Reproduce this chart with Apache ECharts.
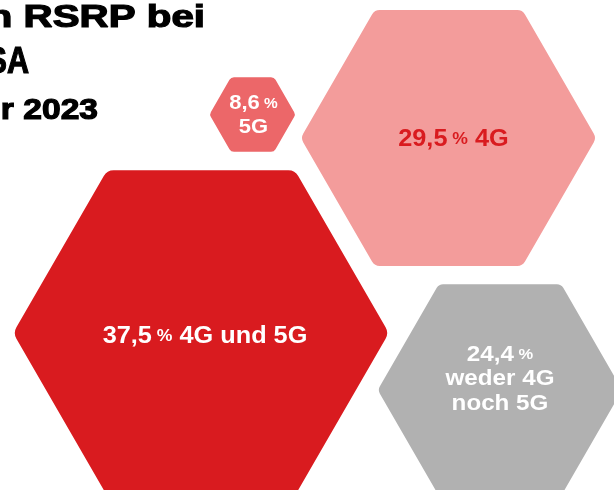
<!DOCTYPE html>
<html>
<head>
<meta charset="utf-8">
<script src="https://cdn.jsdelivr.net/npm/echarts@6/dist/echarts.min.js"></script>
<style>
html, body { margin: 0; padding: 0; background: #fff; }
#chart { width: 614px; height: 490px; }
</style>
</head>
<body>
<div id="chart"></div>
<script>
// Anteile in Prozent
const shares = [37.5, 29.5, 24.4, 8.6]
const names = ['4G und 5G', '4G', 'weder 4G\nnoch 5G', '5G']
const separators = [' ', ' ', '\n', '\n']
const fillColors = ['#d91b1f', '#f39c9b', '#b1b1b1', '#ec6769']
const textColors = ['#ffffff', '#d91b1f', '#ffffff', '#ffffff']
// Lage der Sechseck-Mittelpunkte
const posX = [201, 448.5, 500, 252.5]
const posY = [333, 138, 390, 114.5]
// Titel (links abgeschnitten)
const titleLines = ['n RSRP bei', 'SA', 'r 2023']

const radiusPerPercent = 5.01
const font = '"Liberation Sans", Arial, sans-serif'
// Versatz der Beschriftung gegenüber Mitte
const labelDx = [4, 5, 0, 1]
const labelDy = [4, 2, -11, 1]

function hexPath(cx, cy, r, rc) {
  const pts = []
  for (let i = 0; i < 6; i++) {
    const a = Math.PI / 3 * i
    pts.push([cx + r * Math.cos(a), cy + r * Math.sin(a)])
  }
  let d = ''
  const t = rc / r
  for (let i = 0; i < 6; i++) {
    const p = pts[i]
    const prev = pts[(i + 5) % 6]
    const next = pts[(i + 1) % 6]
    const a = [p[0] + (prev[0] - p[0]) * t, p[1] + (prev[1] - p[1]) * t]
    const b = [p[0] + (next[0] - p[0]) * t, p[1] + (next[1] - p[1]) * t]
    d += (i === 0 ? 'M' : 'L') + a[0] + ',' + a[1] + 'Q' + p[0] + ',' + p[1] + ' ' + b[0] + ',' + b[1]
  }
  return d + 'Z'
}

function titleText(text, x, y, size, sx) {
  return {
    type: 'text',
    x: x,
    y: y,
    scaleX: sx,
    style: {
      text: text,
      align: 'right',
      verticalAlign: 'middle',
      fill: '#000',
      stroke: '#000',
      lineWidth: 1.2,
      font: 'bold ' + size + 'px ' + font
    }
  }
}

const data = shares.map((v, i) => [posX[i], posY[i], v, i])

const chart = echarts.init(document.getElementById('chart'))
chart.setOption({
  animation: false,
  grid: { left: 0, right: 0, top: 0, bottom: 0 },
  xAxis: { type: 'value', min: 0, max: 614, show: false },
  yAxis: { type: 'value', min: 0, max: 490, inverse: true, show: false },
  graphic: [
    titleText(titleLines[0], 205, 18, 31, 1.3),
    titleText(titleLines[1], 29, 63, 36, 0.85),
    titleText(titleLines[2], 98, 111, 30, 1.12)
  ],
  series: [{
    type: 'custom',
    data: data,
    renderItem: function(params, api) {
      const idx = api.value(3)
      const c = api.coord([api.value(0), api.value(1)])
      const r = api.size([api.value(2) * radiusPerPercent, 0])[0]
      const small = r < 80
      const fs = small ? 20 : (idx === 2 ? 22 : 23)
      const lh = small ? 23.5 : 24.5
      const col = textColors[idx]
      const num = String(shares[idx]).replace('.', ',')
      const rest = separators[idx] === ' '
        ? '{v| ' + names[idx] + '}'
        : '\n' + names[idx].split('\n').map(s => '{v|' + s + '}').join('\n')
      const txt = '{v|' + num + '}{p| %}' + rest
      return {
        type: 'group',
        children: [
          {
            type: 'path',
            shape: { pathData: hexPath(c[0], c[1], r, Math.max(3, r * 0.035)) },
            style: { fill: fillColors[idx] }
          },
          {
            type: 'text',
            x: c[0] + labelDx[idx],
            y: c[1] + labelDy[idx],
            scaleX: 1.1,
            style: {
              text: txt,
              align: 'center',
              verticalAlign: 'middle',
              fill: col,
              rich: {
                v: { fontFamily: font, fontWeight: 'bold', fontSize: fs, lineHeight: lh, fill: col, textStroke: col, textStrokeWidth: 0.3 },
                p: { fontFamily: font, fontWeight: 'bold', fontSize: Math.round(fs * 0.68), lineHeight: lh, fill: col, textStroke: col, textStrokeWidth: 0.3 }
              }
            }
          }
        ]
      }
    }
  }]
})
</script>
</body>
</html>
